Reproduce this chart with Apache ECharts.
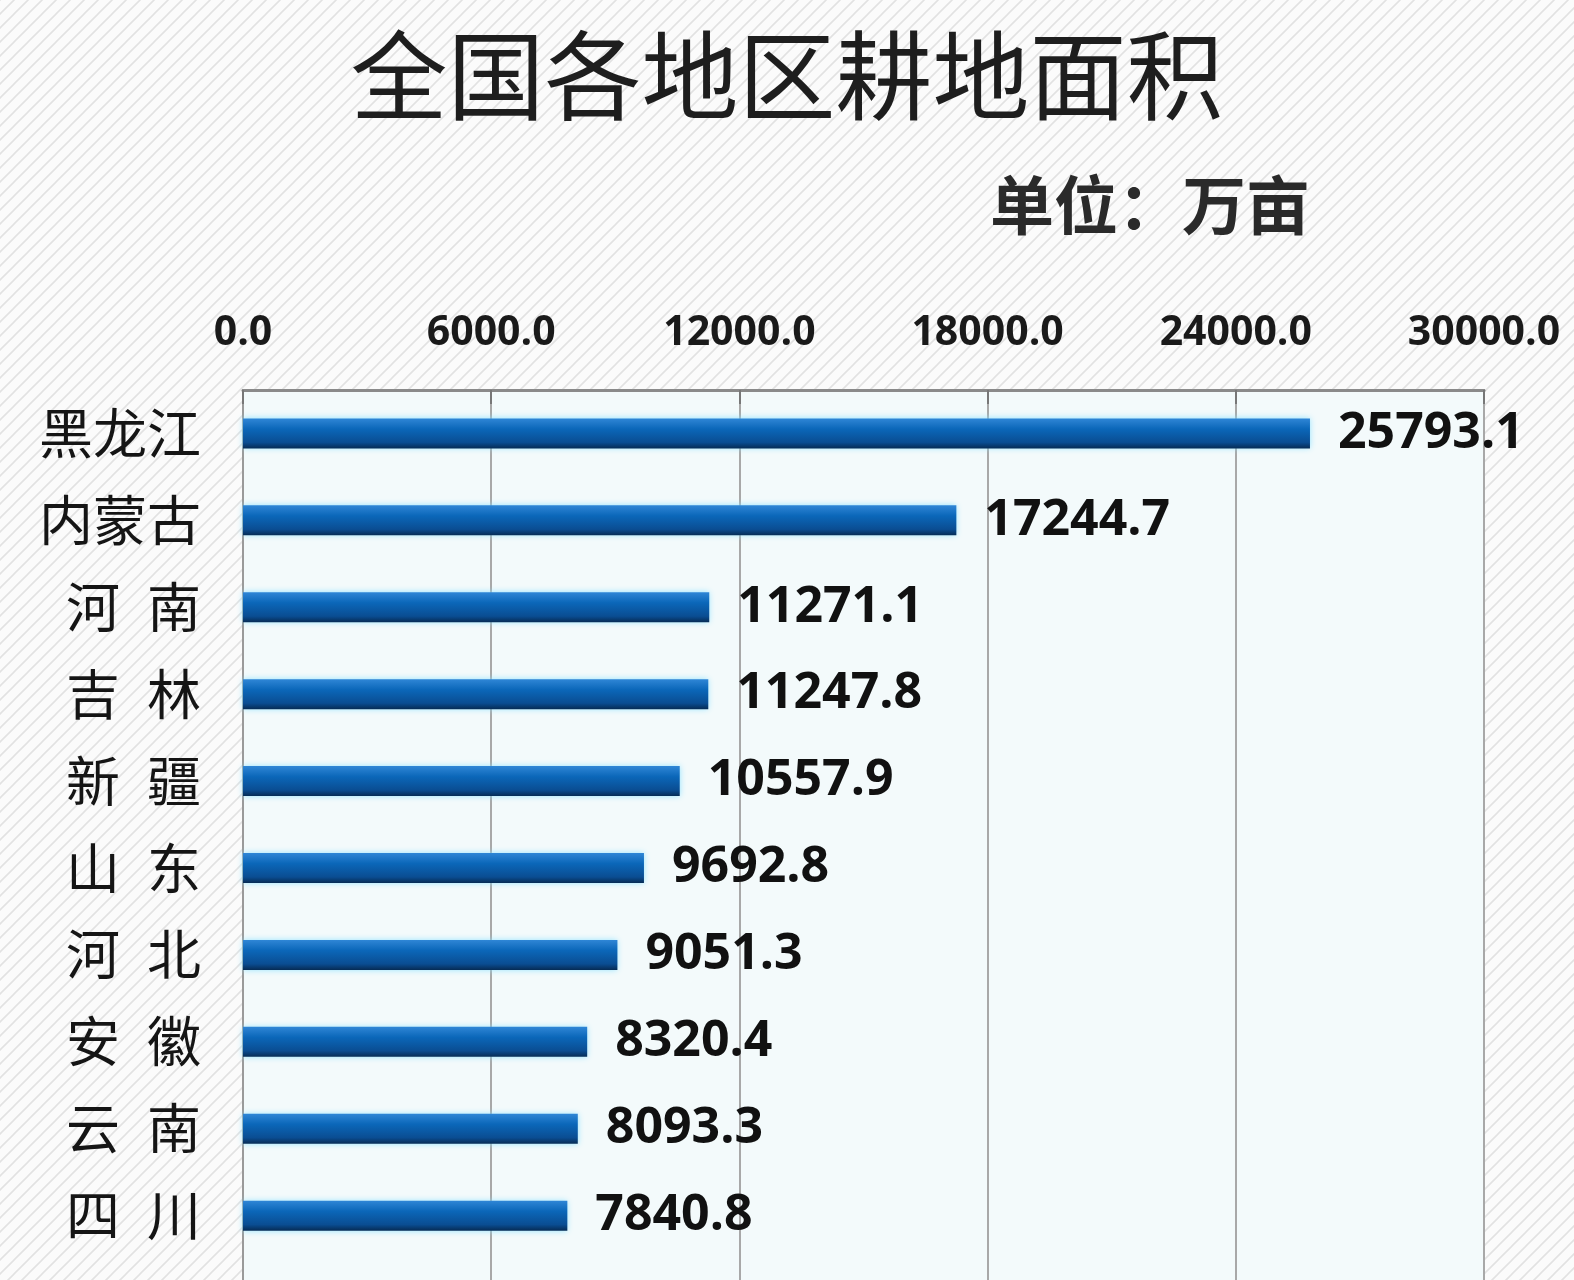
<!DOCTYPE html>
<html><head><meta charset="utf-8">
<script src="https://cdn.jsdelivr.net/npm/echarts@6/dist/echarts.min.js"></script>
<style>html,body{margin:0;padding:0;background:#fafafa}#c{width:1574px;height:1280px}</style>
</head><body><div id="c"></div>
<script>
const titleText = '全国各地区耕地面积';
const unitText = '单位：万亩';
const categories = ['黑龙江','内蒙古','河南','吉林','新疆','山东','河北','安徽','云南','四川'];
const values = [25793.1, 17244.7, 11271.1, 11247.8, 10557.9, 9692.8, 9051.3, 8320.4, 8093.3, 7840.8];
const axisMin = 0, axisMax = 30000, axisStep = 6000;

// hatched background pattern
const pc = document.createElement('canvas');
pc.width = 14; pc.height = 14;
const g = pc.getContext('2d');
g.fillStyle = '#fbfbfb'; g.fillRect(0,0,14,14);
g.strokeStyle = '#e2e2e2'; g.lineWidth = 1.6;
g.beginPath(); g.moveTo(0,14); g.lineTo(14,0); g.moveTo(-7,7); g.lineTo(7,-7); g.moveTo(7,21); g.lineTo(21,7); g.stroke();

const chart = echarts.init(document.getElementById('c'), null, {renderer:'canvas'});
chart.setOption({
  backgroundColor: {image: pc, repeat: 'repeat'},
  animation: false,
  title: [
    {text: titleText, left: 'center', top: 22,
     textStyle: {fontFamily: '"Noto Sans CJK SC"', fontSize: 97, fontWeight: 'normal', color: '#1e1e1e'}},
    {text: unitText, left: 985, top: 168,
     textStyle: {fontFamily: '"Noto Sans CJK SC"', fontSize: 64, fontWeight: 'bold', color: '#2a2a2a'}}
  ],
  grid: {left: 243, right: 90, top: 390, height: 956, show: true, outerBoundsMode: 'none', containLabel: false,
         backgroundColor: '#f3fafb', borderColor: '#8c8c8c', borderWidth: 2},
  xAxis: {
    type: 'value', position: 'top', min: axisMin, max: axisMax, interval: axisStep,
    axisLine: {show: true, lineStyle: {color: '#8a8a8a', width: 3}},
    axisTick: {show: true, inside: true, length: 14, lineStyle: {color: '#777', width: 2}},
    splitLine: {show: true, lineStyle: {color: '#a8a8a8', width: 2}},
    axisLabel: {margin: 36, color: '#1a1a1a', fontFamily: '"Open Sans"', fontWeight: 'bold', fontSize: 41,
                formatter: v => v.toFixed(1)}
  },
  yAxis: {
    type: 'category', inverse: true, data: categories, max: categories.length,
    axisLine: {show: true, lineStyle: {color: '#9a9a9a', width: 2}},
    axisTick: {show: false},
    splitLine: {show: false},
    axisLabel: {margin: 42, interval: 0, color: '#151515', fontFamily: '"Noto Sans CJK SC"', fontSize: 54,
                formatter: v => (!v ? '' : (v.length === 2 ? v[0] + '\u2002' + v[1] : v))}
  },
  series: [{
    type: 'bar', data: values, barWidth: 30,
    itemStyle: {
      color: new echarts.graphic.LinearGradient(0,0,0,1,[
        {offset: 0, color: '#2f86d6'},
        {offset: 0.35, color: '#0b67b9'},
        {offset: 0.8, color: '#0a4d92'},
        {offset: 1, color: '#062c55'}
      ]),
      shadowColor: 'rgba(140,225,255,0.9)', shadowBlur: 6
    },
    label: {show: true, position: 'right', distance: 28, color: '#111',
            fontFamily: '"Open Sans"', fontWeight: 'bold', fontSize: 50,
            formatter: p => p.value.toFixed(1)}
  }]
});
</script></body></html>
